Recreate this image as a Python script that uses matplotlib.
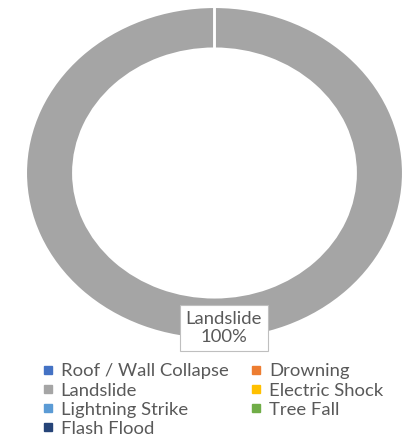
import matplotlib.pyplot as plt
from matplotlib.lines import Line2D

plt.rcParams['font.family'] = ['Lato', 'DejaVu Sans']

# Data
categories = ['Roof / Wall Collapse', 'Drowning', 'Landslide', 'Electric Shock',
              'Lightning Strike', 'Tree Fall', 'Flash Flood']
values = [0, 0, 100, 0, 0, 0, 0]
colors = ['#4472C4', '#ED7D31', '#A5A5A5', '#FFC000', '#5B9BD5', '#70AD47', '#264478']

fig = plt.figure(figsize=(4.10, 4.41), dpi=100)
ax = fig.add_axes([0.0634, 0.2313, 0.9195, 0.7528])

# Donut
ax.pie(values, colors=colors, startangle=90, counterclock=False, radius=1,
       wedgeprops=dict(width=0.25, edgecolor='white', linewidth=1.5))
ax.set_aspect('auto')
ax.set_xlim(-1, 1)
ax.set_ylim(-1, 1)
ax.axis('off')

# data label for the only non-zero slice
total = sum(values)
for name, v in zip(categories, values):
    if v > 0:
        ax.text(0.525, 0.033, f'{name}\n{v / total * 100:.0f}%', transform=ax.transAxes,
                ha='center', va='center', fontsize=13.3, color='#595959', linespacing=1.2,
                bbox=dict(boxstyle='square,pad=0.3', facecolor='white', edgecolor='#BFBFBF', linewidth=0.8))

# Legend, filled row by row like Excel
handles = [Line2D([], [], marker='s', linestyle='none', markersize=5.5,
                  markerfacecolor=c, markeredgecolor=c) for c in colors]
order = [0, 2, 4, 6, 1, 3, 5]
fig.legend([handles[i] for i in order], [categories[i] for i in order],
           ncol=2, loc='upper left', bbox_to_anchor=(0.105, 0.176), frameon=False,
           fontsize=13.3, labelcolor='#595959', handlelength=0.5, handletextpad=0.45,
           columnspacing=1.25, labelspacing=0.17, borderpad=0, borderaxespad=0)

plt.savefig('out.png')
